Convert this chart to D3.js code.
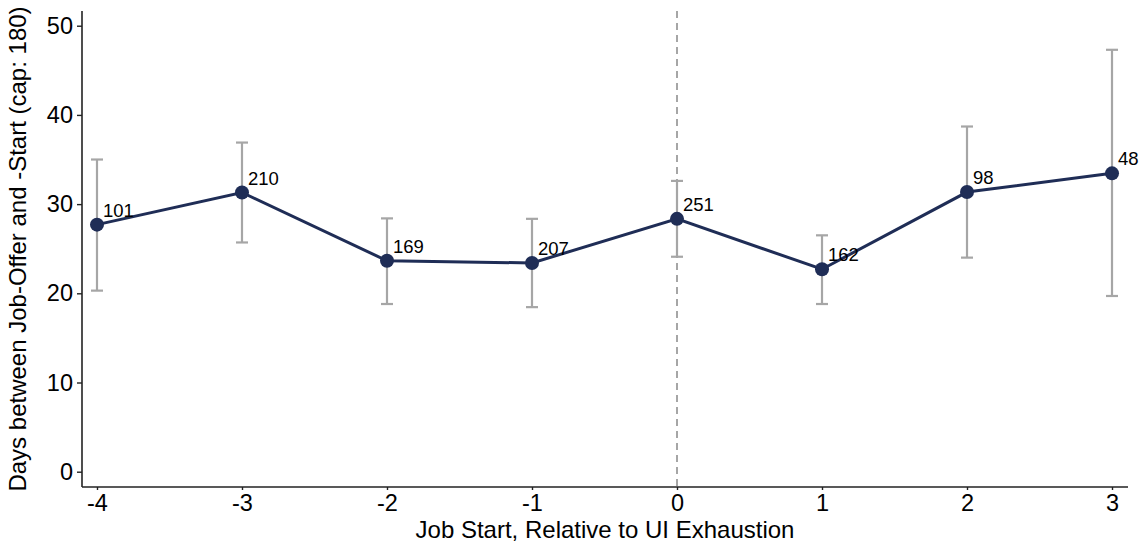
<!DOCTYPE html>
<html>
<head>
<meta charset="utf-8">
<script src="https://cdn.jsdelivr.net/npm/d3@7"></script>
<style>
  html, body { margin: 0; padding: 0; background: #fff; }
  svg { display: block; }
  text { font-family: Arial, "Liberation Sans", sans-serif; fill: #000; }
</style>
</head>
<body>
<svg id="chart" width="1145" height="548"></svg>
<script>
const periods = [-4, -3, -2, -1, 0, 1, 2, 3];
const means   = [27.7, 31.3, 23.65, 23.4, 28.35, 22.7, 31.35, 33.45];
const lowerCI = [20.3, 25.7, 18.8, 18.45, 24.1, 18.8, 24.0, 19.7];
const upperCI = [35.0, 36.9, 28.4, 28.35, 32.6, 26.5, 38.7, 47.3];
const counts  = [101, 210, 169, 207, 251, 162, 98, 48];
const yTicks  = [0, 10, 20, 30, 40, 50];
const xLabel = "Job Start, Relative to UI Exhaustion";
const yLabel = "Days between Job-Offer and -Start (cap: 180)";

const data = periods.map((p, i) => ({ p, m: means[i], lo: lowerCI[i], hi: upperCI[i], n: counts[i] }));

const svg = d3.select("#chart");
const mLeft = 82, mRight = 1128, mTop = 11, mBottom = 487;
const FONT = "Arial, 'Liberation Sans', sans-serif";

const x = d3.scaleLinear().domain([-4.1034, 3.1103]).range([mLeft, mRight]);
const y = d3.scaleLinear().domain([-1.715, 51.65]).range([mBottom, mTop]);

// vertical dashed reference line at 0
svg.append("line")
  .attr("x1", x(0)).attr("x2", x(0))
  .attr("y1", mTop).attr("y2", mBottom)
  .attr("stroke", "#a6a6a6").attr("stroke-width", 2)
  .attr("stroke-dasharray", "7,5");

// axes
const yAxis = svg.append("g")
  .attr("transform", `translate(${mLeft},0)`)
  .call(d3.axisLeft(y).tickValues(yTicks).tickFormat(d => String(d)).tickSize(5).tickPadding(4));
yAxis.select(".domain").attr("d", `M0,${mTop}V${mBottom}`).attr("stroke", "#222").attr("stroke-width", 1.6);
yAxis.selectAll(".tick line").attr("stroke", "#222").attr("stroke-width", 1.4);
yAxis.selectAll(".tick text").attr("font-size", 23.5).attr("fill", "#000").attr("font-family", FONT);

const xAxis = svg.append("g")
  .attr("transform", `translate(0,${mBottom})`)
  .call(d3.axisBottom(x).tickValues(periods).tickFormat(d => String(d)).tickSize(3).tickPadding(4.5));
xAxis.select(".domain").attr("d", `M${mLeft},0H${mRight}`).attr("stroke", "#222").attr("stroke-width", 1.6);
xAxis.selectAll(".tick line").attr("stroke", "#222").attr("stroke-width", 1.4);
xAxis.selectAll(".tick text").attr("font-size", 23.5).attr("fill", "#000").attr("font-family", FONT);

// axis titles
svg.append("text")
  .attr("x", (mLeft + mRight) / 2).attr("y", 538)
  .attr("text-anchor", "middle").attr("font-size", 24)
  .text(xLabel);
svg.append("text")
  .attr("transform", `translate(26,${(mTop + mBottom) / 2}) rotate(-90)`)
  .attr("text-anchor", "middle").attr("font-size", 24)
  .text(yLabel);

// error bars
const capW = 6;
const eb = svg.append("g").attr("stroke", "#a6a6a6").attr("stroke-width", 2.2).attr("fill", "none");
data.forEach(d => {
  eb.append("line").attr("x1", x(d.p)).attr("x2", x(d.p)).attr("y1", y(d.lo)).attr("y2", y(d.hi));
  eb.append("line").attr("x1", x(d.p) - capW).attr("x2", x(d.p) + capW).attr("y1", y(d.lo)).attr("y2", y(d.lo));
  eb.append("line").attr("x1", x(d.p) - capW).attr("x2", x(d.p) + capW).attr("y1", y(d.hi)).attr("y2", y(d.hi));
});

// line
svg.append("path")
  .datum(data)
  .attr("fill", "none").attr("stroke", "#1f2d56").attr("stroke-width", 3)
  .attr("d", d3.line().x(d => x(d.p)).y(d => y(d.m)));

// points
svg.selectAll("circle.pt").data(data).enter().append("circle")
  .attr("class", "pt")
  .attr("cx", d => x(d.p)).attr("cy", d => y(d.m)).attr("r", 7)
  .attr("fill", "#1f2d56");

// count labels
svg.selectAll("text.n").data(data).enter().append("text")
  .attr("class", "n")
  .attr("x", d => x(d.p) + 6).attr("y", d => y(d.m) - 8)
  .attr("font-size", 18.5)
  .text(d => d.n);
</script>
</body>
</html>
